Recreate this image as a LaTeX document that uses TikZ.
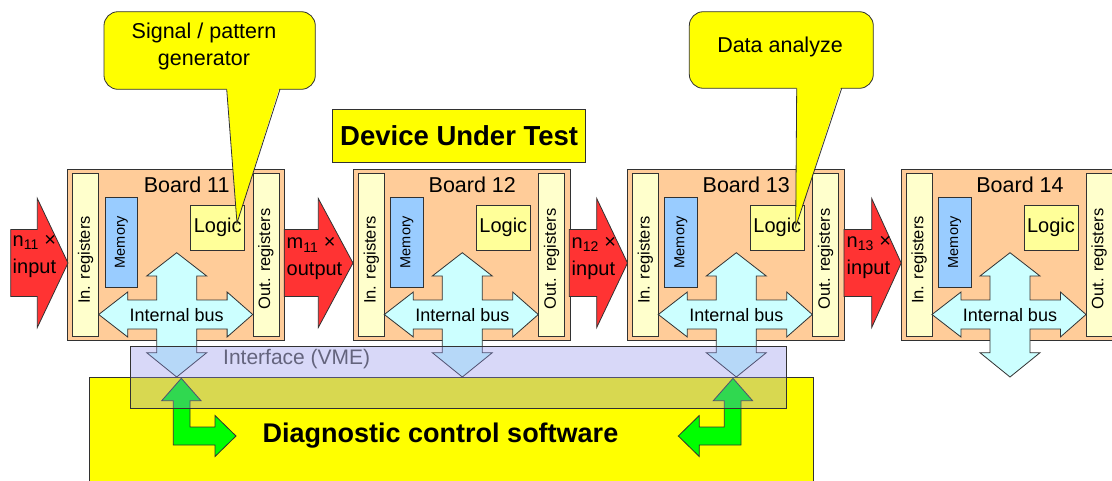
\documentclass[tikz,border=0pt]{standalone}
\usepackage{fontspec}
\setmainfont{Liberation Sans}
\definecolor{peach}{RGB}{255,204,153}
\definecolor{regy}{RGB}{255,255,204}
\definecolor{memb}{RGB}{153,204,255}
\definecolor{logy}{RGB}{255,255,153}
\definecolor{busc}{RGB}{204,255,255}
\definecolor{redar}{RGB}{255,51,51}
\definecolor{vmec}{RGB}{141,141,235}
\definecolor{vmetxt}{RGB}{100,100,125}
\definecolor{grn}{RGB}{0,255,0}
\definecolor{ylw}{RGB}{255,255,0}
\definecolor{edge}{RGB}{50,50,50}
\newcommand\fsz[2]{\fontsize{#1pt}{#2pt}\selectfont}
\newcommand\blockarrow[3]{%
  \draw[redblk] (#1,229.5) -- (#2,229.5) -- (#2,198.5) -- (#3,263) -- (#2,327.5) -- (#2,296.5) -- (#1,296.5) -- cycle;}
\tikzset{
  outl/.style={draw=edge, line width=0.8pt},
  boardbox/.style={outl, fill=peach, anchor=north west, minimum width=217pt, minimum height=171pt, inner sep=0pt, outer sep=0pt},
  regbar/.style={outl, fill=regy, minimum width=26pt, minimum height=163pt, inner sep=0pt},
  regtext/.style={rotate=90, font=\fsz{16.5}{20}, inner sep=0pt},
  membox/.style={outl, fill=memb, rotate=90, minimum width=90pt, minimum height=32.6pt, inner sep=0pt, font=\fsz{14.5}{18}},
  logicbox/.style={outl, fill=logy, minimum width=54pt, minimum height=45pt, inner sep=0pt, font=\fsz{20}{24}},
  titletext/.style={font=\fsz{21.5}{26}, inner sep=0pt},
  bustext/.style={font=\fsz{18}{22}, inner sep=0pt},
  crossshape/.style={outl, fill=busc, line join=miter},
  redblk/.style={outl, fill=redar},
  redtext/.style={font=\fsz{20}{27}, align=left, anchor=west, inner sep=0pt},
  callbox/.style={outl, fill=ylw, rounded corners=14pt, inner sep=0pt},
  calltext/.style={font=\fsz{21.5}{26.7}, align=center, inner sep=0pt},
  dutbox/.style={outl, fill=ylw, minimum width=253pt, minimum height=53.4pt, inner sep=0pt, font=\bfseries\fsz{27.5}{32}},
  swbox/.style={outl, fill=ylw, anchor=north west, minimum width=724.5pt, minimum height=120pt, inner sep=0pt},
  swtext/.style={font=\bfseries\fsz{27}{32}, inner sep=0pt},
  vmebox/.style={draw=edge, line width=0.8pt, fill=vmec, fill opacity=0.34, minimum width=656.6pt, minimum height=61.6pt, inner sep=0pt},
  vmetext/.style={text=vmetxt, font=\fsz{21}{25}, inner sep=0pt},
  grnarrow/.style={outl, fill=grn},
  pics/board/.style={code={
    \node[boardbox] (-box) at (0,0) {};
    \node[regbar] (-in) at (18,85.5) {};
    \node[regtext] (-intext) at (18,91) {In. registers};
    \node[regbar] (-out) at (198.2,85.5) {};
    \node[regtext] (-outtext) at (198.2,90) {Out. registers};
    \node[membox] (-mem) at (53.7,73) {Memory};
    \node[logicbox] (-logic) at (150,58.5) {Logic};
    \node[titletext] (-title) at (119,16) {Board #1};
    \draw[crossshape] (109,83.7) -- (139,107) -- (129,107) -- (129,131) -- (159.4,131) -- (159.4,123)
      -- (185,145.5) -- (159.4,168) -- (159.4,160) -- (129,160) -- (129,183.7) -- (139,183.7)
      -- (109,208) -- (79,183.7) -- (89,183.7) -- (89,160) -- (60,160) -- (60,168)
      -- (31,145.5) -- (60,123) -- (60,131) -- (89,131) -- (89,107) -- (79,107) -- cycle;
    \node[bustext] (-bus) at (109,146) {Internal bus};
  }},
}
\begin{document}
\begin{tikzpicture}[x=1pt,y=-1pt]
\useasboundingbox (0,0) rectangle (1112,480);
\clip (0,0) rectangle (1112,480);
\fill[white] (0,0) rectangle (1112,480);

% software box (below everything around the interface)
\node[swbox] (sw) at (88.5,377.3) {};
\node[swtext] (swt) at (440.5,436) {Diagnostic control software};

% boards
\pic (b11) at (67.7,169) {board=11};
\pic (b12) at (353.3,169) {board=12};
\pic (b13) at (627.3,169) {board=13};
\pic (b14) at (901,169) {board=14};

% red block arrows
\blockarrow{10.7}{37.3}{68}
\blockarrow{284.3}{318.3}{353}
\blockarrow{569.3}{596.7}{627.5}
\blockarrow{844}{871.7}{901.2}
\node[redtext] (r1t) at (12.5,256.5) {n\textsubscript{11} ×\\input};
\node[redtext] (r2t) at (286.5,259) {m\textsubscript{11} ×\\output};
\node[redtext] (r3t) at (571.5,258.5) {n\textsubscript{12} ×\\input};
\node[redtext] (r4t) at (846.5,257.5) {n\textsubscript{13} ×\\input};

% Device under test label
\node[dutbox] (dut) at (459.2,136) {Device Under Test};

% callouts
\node[callbox, minimum width=211.3pt, minimum height=77.6pt] (c1) at (209.65,50.5) {};
\fill[ylw] (226.7,86) -- (280,86) -- (237,223) -- cycle;
\draw[outl] (226.7,89.3) -- (237,223) -- (280,89.3);
\node[calltext] (c1t) at (204,46.6) {Signal / pattern\\generator};

\node[callbox, minimum width=184pt, minimum height=76.6pt] (c2) at (781.3,50) {};
\fill[ylw] (796.7,85) -- (841.7,85) -- (795.7,226.7) -- cycle;
\draw[outl] (796.7,88.3) -- (795.7,226.7) -- (841.7,88.3);
\node[calltext] (c2t) at (780,46.7) {Data analyze};

% green arrows
\draw[grnarrow] (181.3,378.3) -- (201,400.7) -- (190,400.7) -- (190,427) -- (215,427) -- (215,415.5)
  -- (236,436) -- (215,456.5) -- (215,445) -- (173.3,445) -- (173.3,400.7) -- (161.7,400.7) -- cycle;
\draw[grnarrow] (733,378.3) -- (713.3,400.7) -- (724.3,400.7) -- (724.3,427) -- (699.3,427) -- (699.3,415.5)
  -- (678.3,436) -- (699.3,456.5) -- (699.3,445) -- (741,445) -- (741,400.7) -- (752.6,400.7) -- cycle;

% interface (semi transparent)
\node[vmebox] (vme) at (458.3,377.5) {};
\node[vmetext] (vmet) at (296.7,359.3) {Interface (VME)};
\end{tikzpicture}
\end{document}
